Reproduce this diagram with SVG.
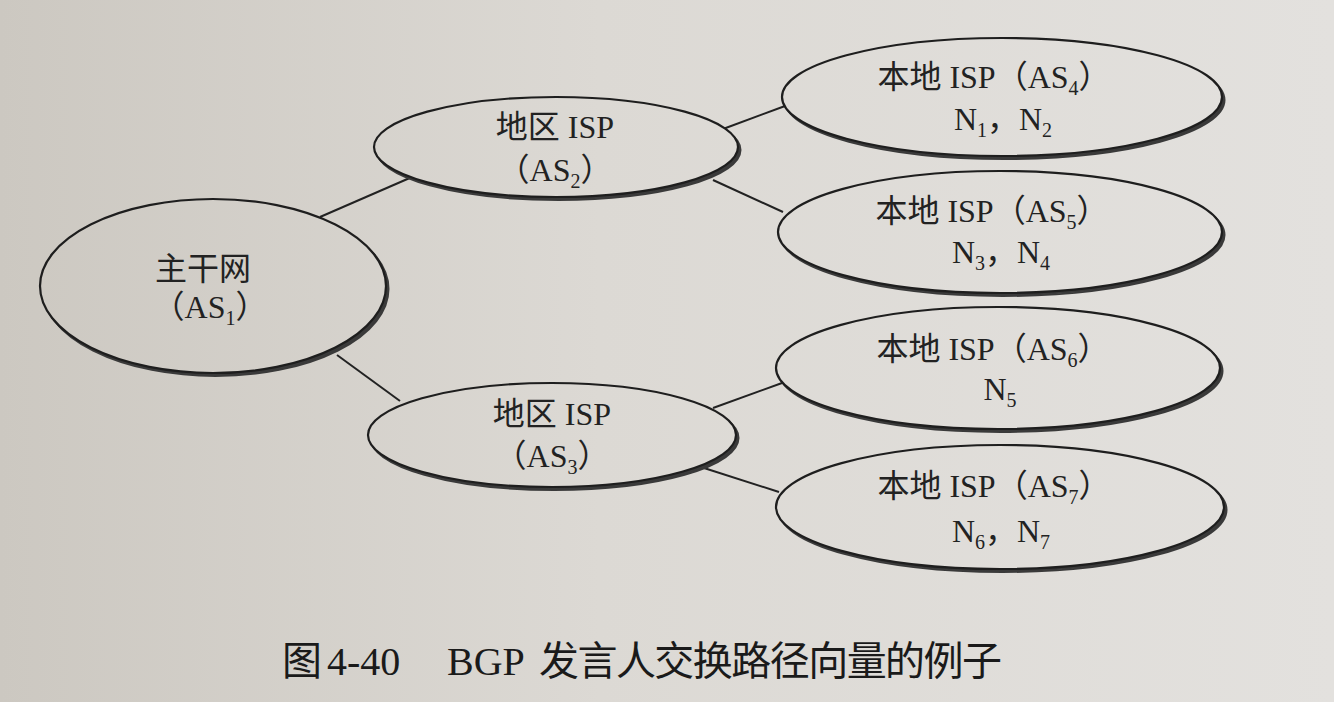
<svg xmlns="http://www.w3.org/2000/svg" width="1334" height="702" viewBox="0 0 1334 702">
  <defs>
    <linearGradient id="paper" gradientUnits="userSpaceOnUse" x1="0" y1="350" x2="1334" y2="350">
      <stop offset="0" stop-color="#ccc8c1"/>
      <stop offset="0.45" stop-color="#dcd9d4"/>
      <stop offset="1" stop-color="#e3e1de"/>
    </linearGradient>
  </defs>
  <style>
    .shadow { fill: #3a3a3a; stroke: #3a3a3a; stroke-width: 2; }
    .node { fill: url(#paper); stroke: #1e1e1e; stroke-width: 2.2; }
    .conn { stroke: #222; stroke-width: 2; fill: none; }
    .lbl { font-family: "Liberation Serif", "Noto Sans CJK SC", serif; font-size: 32px; fill: #222; text-anchor: middle; }
    .sub { font-size: 20px; }
    .cap { font-family: "Liberation Serif", "Noto Sans CJK SC", serif; font-size: 40px; fill: #1a1a1a; }
  </style>
  <rect x="0" y="0" width="1334" height="702" fill="url(#paper)"/>

  <g id="connectors">
    <line class="conn" x1="320" y1="217" x2="412" y2="177"/>
    <line class="conn" x1="723" y1="129" x2="785" y2="106"/>
    <line class="conn" x1="713" y1="180" x2="783" y2="212"/>
    <line class="conn" x1="337" y1="355" x2="400" y2="401"/>
    <line class="conn" x1="713" y1="408" x2="782" y2="383"/>
    <line class="conn" x1="704" y1="468" x2="779" y2="492"/>
  </g>

  <g id="as1">
    <ellipse class="shadow" cx="215.5" cy="289" rx="173" ry="87"/>
    <ellipse class="node" cx="213" cy="286" rx="173" ry="87"/>
    <text class="lbl" x="203" y="280">主干网</text>
    <text class="lbl" x="210" y="318">（AS<tspan class="sub" dy="7">1</tspan><tspan dy="-7">）</tspan></text>
  </g>

  <g id="as2">
    <ellipse class="shadow" cx="558.5" cy="150" rx="182" ry="50"/>
    <ellipse class="node" cx="556" cy="147" rx="182" ry="50"/>
    <text class="lbl" x="555" y="138">地区 ISP</text>
    <text class="lbl" x="555" y="181">（AS<tspan class="sub" dy="7">2</tspan><tspan dy="-7">）</tspan></text>
  </g>

  <g id="as3">
    <ellipse class="shadow" cx="554.5" cy="438" rx="184" ry="52"/>
    <ellipse class="node" cx="552" cy="435" rx="184" ry="52"/>
    <text class="lbl" x="552" y="425">地区 ISP</text>
    <text class="lbl" x="552" y="467">（AS<tspan class="sub" dy="7">3</tspan><tspan dy="-7">）</tspan></text>
  </g>

  <g id="as4">
    <ellipse class="shadow" cx="1004.5" cy="100" rx="220" ry="59"/>
    <ellipse class="node" cx="1002" cy="97" rx="220" ry="59"/>
    <text class="lbl" x="994" y="88">本地 ISP（AS<tspan class="sub" dy="7">4</tspan><tspan dy="-7">）</tspan></text>
    <text class="lbl" x="1003" y="130">N<tspan class="sub" dy="7">1</tspan><tspan dy="-7">，</tspan>N<tspan class="sub" dy="7">2</tspan></text>
  </g>

  <g id="as5">
    <ellipse class="shadow" cx="1002.5" cy="235" rx="222" ry="61"/>
    <ellipse class="node" cx="1000" cy="232" rx="222" ry="61"/>
    <text class="lbl" x="992" y="222">本地 ISP（AS<tspan class="sub" dy="7">5</tspan><tspan dy="-7">）</tspan></text>
    <text class="lbl" x="1001" y="263">N<tspan class="sub" dy="7">3</tspan><tspan dy="-7">，</tspan>N<tspan class="sub" dy="7">4</tspan></text>
  </g>

  <g id="as6">
    <ellipse class="shadow" cx="1000.5" cy="371" rx="222" ry="61"/>
    <ellipse class="node" cx="998" cy="368" rx="222" ry="61"/>
    <text class="lbl" x="993" y="360">本地 ISP（AS<tspan class="sub" dy="7">6</tspan><tspan dy="-7">）</tspan></text>
    <text class="lbl" x="1000" y="400">N<tspan class="sub" dy="7">5</tspan></text>
  </g>

  <g id="as7">
    <ellipse class="shadow" cx="1002.5" cy="510" rx="224" ry="62"/>
    <ellipse class="node" cx="1000" cy="507" rx="224" ry="62"/>
    <text class="lbl" x="994" y="497">本地 ISP（AS<tspan class="sub" dy="7">7</tspan><tspan dy="-7">）</tspan></text>
    <text class="lbl" x="1001" y="542">N<tspan class="sub" dy="7">6</tspan><tspan dy="-7">，</tspan>N<tspan class="sub" dy="7">7</tspan></text>
  </g>

  <g id="caption">
    <text class="cap" x="282" y="675">图</text>
    <text class="cap" x="327" y="675">4-40</text>
    <text class="cap" x="447" y="675">BGP</text>
    <text class="cap" x="539" y="675" font-size="39" textLength="463" lengthAdjust="spacing">发言人交换路径向量的例子</text>
  </g>
</svg>
